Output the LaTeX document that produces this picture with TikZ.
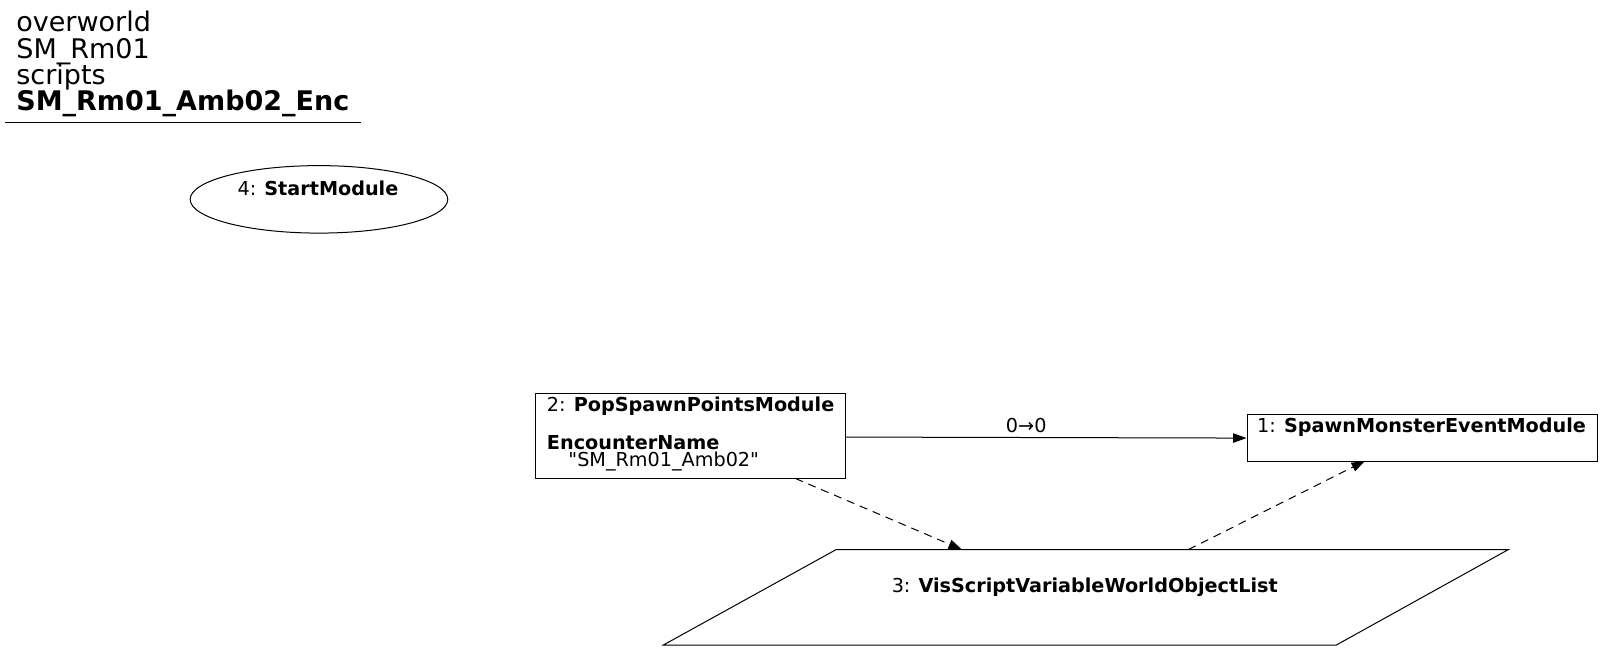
\documentclass[tikz,border=0pt]{standalone}
\usepackage{fontspec}
\setmainfont{DejaVu Sans}[Ligatures=TeXOff]
\usetikzlibrary{arrows.meta,shapes.geometric}
\newcommand{\un}{0.7665pt}
\tikzset{
  lbl/.style={inner sep=0pt, outer sep=0pt, font=\fontsize{14.4}{17}\selectfont},
  ttl/.style={inner sep=0pt, outer sep=0pt, anchor=base west, font=\fontsize{20.25}{24}\selectfont},
  modbox/.style={draw, rectangle, inner sep=0pt, line width=0.75pt},
  link/.style={line width=0.75pt, -{Triangle[length=10pt,width=7pt]}},
  dlink/.style={link, dash pattern=on 6pt off 4.5pt},
}
\begin{document}
\begin{tikzpicture}[x=0.7665pt, y=-0.7665pt]
\useasboundingbox (0,0) rectangle (1566,637);
% title
\node[ttl] (t1) at (16,31) {overworld};
\node[ttl] (t2) at (16,57) {SM\_Rm01};
\node[ttl] (t3) at (16,83) {scripts};
\node[ttl] (t4) at (16,108) {\textbf{SM\_Rm01\_Amb02\_Enc}};
\coordinate (ula) at (5,120);
\coordinate (ulb) at (353,120);
\draw[line width=0.75pt] (ula) -- (ulb);
% node 4
\node[draw, ellipse, inner sep=0pt, line width=0.75pt, minimum width=252*\un, minimum height=66*\un] (n4) at (312,195) {};
\node[lbl, anchor=base] (n4t) at (311,191) {4: \textbf{StartModule}};
% node 2
\node[modbox, minimum width=303.5*\un, minimum height=83.5*\un] (n2) at (675.25,426.25) {};
\node[lbl, anchor=base west] (n2a) at (535,402.8) {2: \textbf{PopSpawnPointsModule}};
\node[lbl, anchor=base west] (n2b) at (535,440) {\textbf{EncounterName}};
\node[lbl, anchor=base west] (n2c) at (556,456.6) {"SM\_Rm01\_Amb02"};
% node 1
\node[modbox, minimum width=342.5*\un, minimum height=46*\un] (n1) at (1391,428) {};
\node[lbl, anchor=base] (n1t) at (1390.5,423.3) {1: \textbf{SpawnMonsterEventModule}};
% node 3 (parallelogram)
\coordinate (p3tl) at (818,537.5);
\coordinate (p3tr) at (1475.5,537.5);
\coordinate (p3br) at (1307,631);
\coordinate (p3bl) at (648.7,631);
\draw[line width=0.75pt, line join=miter] (p3tl) -- (p3tr) -- (p3br) -- (p3bl) -- cycle;
\node[lbl, anchor=base] (n3t) at (1061,580) {3: \textbf{VisScriptVariableWorldObjectList}};
% edges
\draw[link] (n2.east |- 0,427.5) -- node[lbl, anchor=base, pos=0.45, yshift=5.1*\un] (e21) {0→0} (n1.west |- 0,428.5);
\coordinate (d1s) at (778,468);
\coordinate (d1e) at (940.8,537.5);
\draw[dlink] (d1s) -- (d1e);
\coordinate (d2s) at (1162.5,537.5);
\coordinate (d2e) at (1335,451);
\draw[dlink] (d2s) -- (d2e);
\end{tikzpicture}
\end{document}
